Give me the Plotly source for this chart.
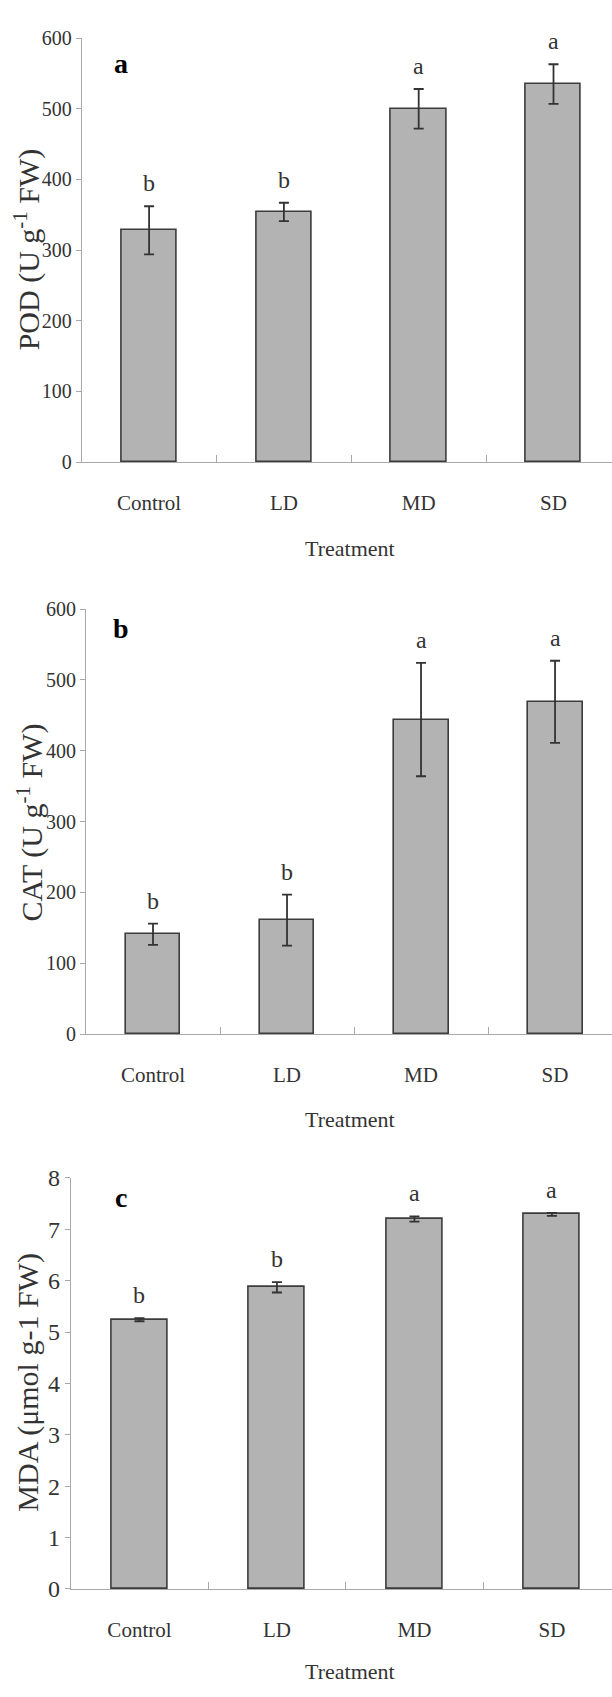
import plotly.graph_objects as go

W, H = 612, 1697

categories = ["Control", "LD", "MD", "SD"]

pod_values = [328, 354, 500, 535]
pod_errors = [34, 13, 28, 28]
pod_letters = ["b", "b", "a", "a"]

cat_values = [141, 161, 444, 469]
cat_errors = [15, 36, 80, 58]
cat_letters = ["b", "b", "a", "a"]

mda_values = [5.24, 5.87, 7.20, 7.29]
mda_errors = [0.03, 0.10, 0.05, 0.03]
mda_letters = ["b", "b", "a", "a"]

pod_ticks = [0, 100, 200, 300, 400, 500, 600]
cat_ticks = [0, 100, 200, 300, 400, 500, 600]
mda_ticks = [0, 1, 2, 3, 4, 5, 6, 7, 8]

SERIF = "Liberation Serif"
TXT = "#333333"
AXC = "#a8a8a8"


def px(x):
    return x / W


def py(y):
    return 1 - y / H


panels = [
    dict(v=pod_values, e=pod_errors, l=pod_letters, t=pod_ticks, yr=[0, 600],
         x0=81.7, top=25.5, zero=456, xmax=3.434,
         ytitle="POD (U g<sup>-1</sup> FW)", ytx=27, yty=240, xty=544,
         lab="a", laby=51, tickfs=20),
    dict(v=cat_values, e=cat_errors, l=cat_letters, t=cat_ticks, yr=[0, 600],
         x0=86, top=605.3, zero=1037, xmax=3.425,
         ytitle="CAT (U g<sup>-1</sup> FW)", ytx=30, yty=822, xty=1124,
         lab="b", laby=625, tickfs=20),
    dict(v=mda_values, e=mda_errors, l=mda_letters, t=mda_ticks, yr=[0, 8],
         x0=70.7, top=1183, zero=1600.5, xmax=3.437,
         ytitle="MDA (\u03bcmol g-1 FW)", ytx=28, yty=1391, xty=1684,
         lab="c", laby=1203, tickfs=24),
]

fig = go.Figure()
annotations = []
layout = {}

for i, p in enumerate(panels, start=1):
    xa = "x" if i == 1 else f"x{i}"
    ya = "y" if i == 1 else f"y{i}"
    xkey = "xaxis" if i == 1 else f"xaxis{i}"
    ykey = "yaxis" if i == 1 else f"yaxis{i}"

    fig.add_trace(go.Bar(
        x=categories, y=p["v"], xaxis=xa, yaxis=ya,
        width=0.41,
        marker=dict(color="#b3b3b3", line=dict(color="#3c3c3c", width=1.6)),
        error_y=dict(type="data", array=p["e"], visible=True,
                     color="#333333", thickness=1.8, width=5),
        showlegend=False,
    ))

    layout[xkey] = dict(
        domain=[px(p["x0"]), 1],
        anchor=ya,
        type="category",
        range=[-0.5, p["xmax"]],
        showline=True, linecolor=AXC, linewidth=1,
        ticks="inside", tickson="boundaries", ticklen=7, tickcolor=AXC,
        showgrid=False, zeroline=False,
        tickfont=dict(family=SERIF, size=21, color=TXT),
        ticklabelstandoff=22,
    )
    layout[ykey] = dict(
        domain=[py(p["zero"]), py(p["top"])],
        anchor=xa,
        range=p["yr"],
        tickvals=p["t"],
        showline=True, linecolor=AXC, linewidth=1,
        ticks="outside", ticklen=5, tickcolor=AXC,
        showgrid=False, zeroline=False,
        tickfont=dict(family=SERIF, size=p["tickfs"], color=TXT),
    )

    # significance letters above error bars
    for c, v, e, l in zip(categories, p["v"], p["e"], p["l"]):
        annotations.append(dict(
            x=c, y=v + e, xref=xa, yref=ya, text=l, showarrow=False,
            yanchor="bottom", yshift=8,
            font=dict(family=SERIF, size=24, color=TXT),
        ))

    # panel label
    annotations.append(dict(
        x=px(121), y=py(p["laby"]), xref="paper", yref="paper",
        text=f"<b>{p['lab']}</b>", showarrow=False,
        xanchor="center", yanchor="middle",
        font=dict(family=SERIF, size=28, color="#000000"),
    ))
    # y title
    annotations.append(dict(
        x=px(p["ytx"]), y=py(p["yty"]), xref="paper", yref="paper",
        text=p["ytitle"], showarrow=False, textangle=-90,
        xanchor="center", yanchor="middle",
        font=dict(family=SERIF, size=30, color=TXT),
    ))
    # x title
    annotations.append(dict(
        x=px(350), y=py(p["xty"]), xref="paper", yref="paper",
        text="Treatment", showarrow=False,
        xanchor="center", yanchor="middle",
        font=dict(family=SERIF, size=22, color=TXT),
    ))

fig.update_layout(
    width=W, height=H,
    margin=dict(l=0, r=0, t=0, b=0),
    paper_bgcolor="white", plot_bgcolor="white",
    annotations=annotations,
    bargap=0,
    **layout,
)

fig.write_html("out.html")
